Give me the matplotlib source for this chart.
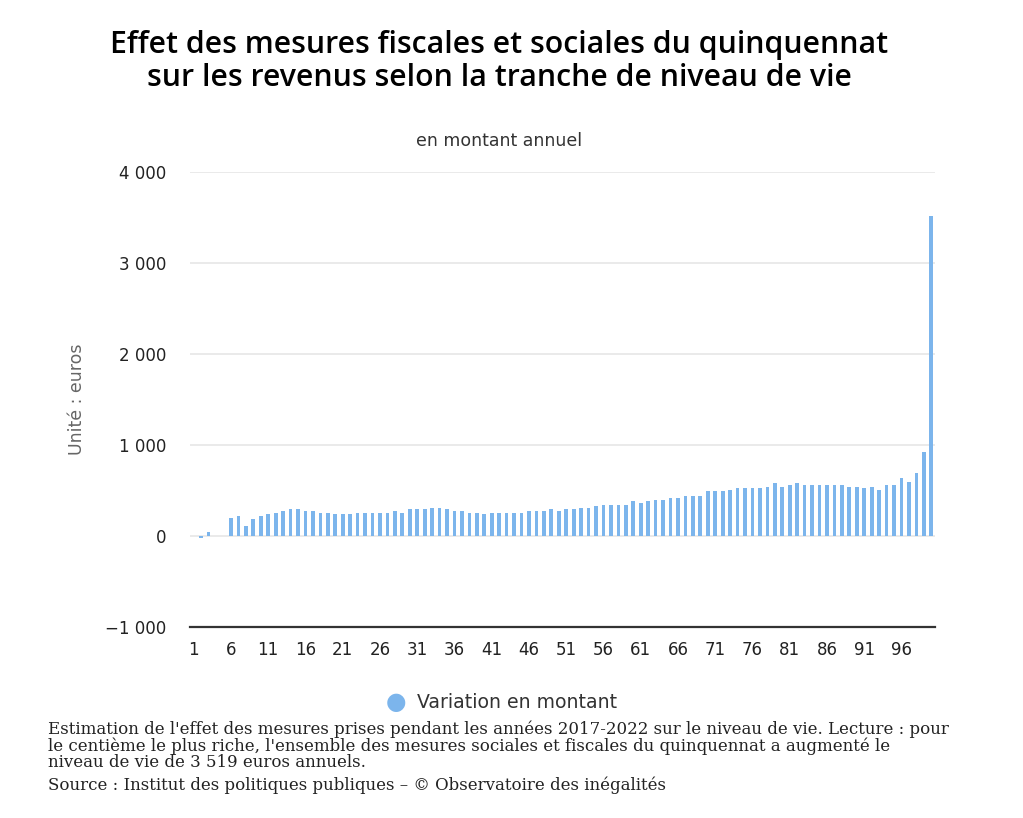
import matplotlib
matplotlib.use('Agg')
import matplotlib.pyplot as plt
from matplotlib.ticker import FuncFormatter

# centiemes de niveau de vie 1..100
centiles = list(range(1, 101))
variation = [0, -25, 40, 5, 0, 200, 220, 110, 190, 220,
             238, 256, 275, 293, 293, 275, 275, 256, 256, 238,
             238, 238, 256, 256, 256, 256, 256, 275, 256, 293,
             293, 293, 311, 311, 293, 275, 275, 256, 256, 238,
             256, 256, 256, 256, 256, 275, 275, 275, 293, 275,
             293, 293, 311, 311, 329, 344, 344, 344, 344, 384,
             366, 384, 399, 399, 417, 417, 436, 436, 436, 490,
             490, 490, 505, 527, 527, 527, 527, 542, 578, 542,
             560, 578, 560, 560, 560, 560, 560, 560, 542, 542,
             527, 542, 505, 560, 560, 633, 597, 688, 919, 3519]
xticks = list(range(1, 100, 5))


def fmt(v, p):
    s = '{:,.0f}'.format(abs(v)).replace(',', ' ')
    return ('\u2212' + s) if v < 0 else s


fig = plt.figure(figsize=(10.23, 8.18), dpi=100)
ax = fig.add_axes([190/1023, (818-627)/818, 745/1023, 455/818])

ax.bar(centiles, variation, width=0.5, color='#7cb5ec', zorder=3)
ax.set_xlim(0.5, 100.5)
ax.set_ylim(-1000, 4000)
ax.set_yticks([-1000, 0, 1000, 2000, 3000, 4000])
ax.yaxis.set_major_formatter(FuncFormatter(fmt))
ax.set_xticks(xticks)
ax.set_xticklabels([str(t) for t in xticks])
ax.grid(axis='y', color='#e6e6e6', linewidth=1.2, zorder=0)

for s in ['top', 'right', 'left']:
    ax.spines[s].set_visible(False)
ax.spines['bottom'].set_color('#333333')
ax.spines['bottom'].set_linewidth(1.6)
ax.tick_params(axis='y', length=0, pad=17, labelsize=12, labelcolor='#222222')
ax.tick_params(axis='x', length=0, pad=10, labelsize=12, labelcolor='#222222')
ax.set_ylabel('Unité : euros', fontsize=12.5, color='#666666', labelpad=14)

fig.text(0.488, 0.925, 'Effet des mesures fiscales et sociales du quinquennat\nsur les revenus selon la tranche de niveau de vie',
         ha='center', va='center', fontsize=21.8, fontweight='semibold', family='Open Sans',
         linespacing=1.12)
fig.text(0.488, 0.828, 'en montant annuel', ha='center', va='center', fontsize=12.5, color='#333333')

# legende
fig.text(0.387, 0.142, '\u25cf', ha='center', va='center', fontsize=17, color='#7cb5ec')
fig.text(0.408, 0.141, 'Variation en montant', ha='left', va='center', fontsize=13.6, color='#333333')

caption = ("Estimation de l'effet des mesures prises pendant les années 2017-2022 sur le niveau de vie. Lecture : pour\n"
           "le centième le plus riche, l'ensemble des mesures sociales et fiscales du quinquennat a augmenté le\n"
           "niveau de vie de 3 519 euros annuels.")
fig.text(48/1023, 1-720/818, caption, ha='left', va='top', fontsize=12.0, family='DejaVu Serif',
         color='#222222', linespacing=0.98)
fig.text(48/1023, 1-777/818, "Source : Institut des politiques publiques – © Observatoire des inégalités",
         ha='left', va='top', fontsize=12.0, family='DejaVu Serif', color='#222222')

fig.savefig('out.png', dpi=100)
